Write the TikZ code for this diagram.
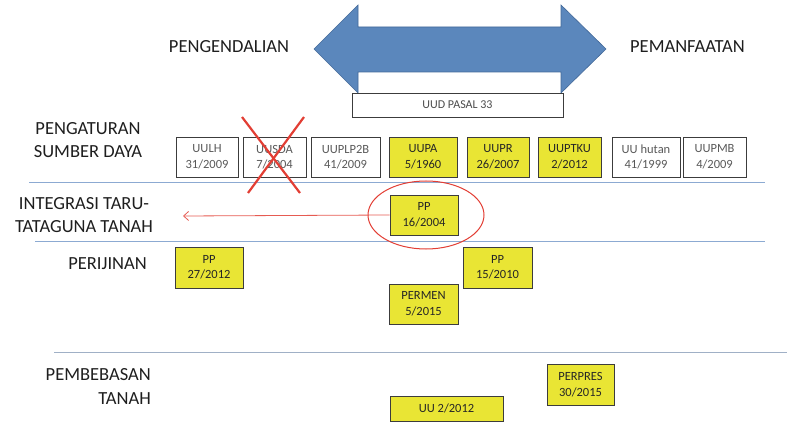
\documentclass[tikz,border=0pt]{standalone}
\usepackage{fontspec}
\setmainfont{Carlito}
\usetikzlibrary{arrows.meta,shadows}
\definecolor{arrowblue}{RGB}{91,135,188}
\definecolor{arrowedge}{RGB}{66,104,152}
\definecolor{lawyellow}{RGB}{233,229,52}
\definecolor{boxedge}{RGB}{60,60,60}
\definecolor{rulerblue}{RGB}{140,170,210}
\definecolor{rulergrey}{RGB}{160,176,198}
\definecolor{markred}{RGB}{226,62,52}
\definecolor{inktext}{RGB}{30,30,30}
\tikzset{
  lawbox/.style={draw=boxedge, line width=0.9pt, rectangle, inner sep=1pt,
    align=center, font=\fontsize{12.5}{15.5}\selectfont,
    drop shadow={shadow xshift=1.2pt, shadow yshift=-1.2pt, fill=black!35, opacity=0.6}},
  wbox/.style={lawbox, fill=white, text=black!65},
  ybox/.style={lawbox, fill=lawyellow, text=black!85},
  heading/.style={text=inktext, font=\fontsize{18.5}{23.5}\selectfont, inner sep=0pt},
  ruler/.style={draw=rulerblue, line width=0.9pt},
}
\begin{document}
\begin{tikzpicture}[x=1pt,y=-1pt]
\useasboundingbox (0,0) rectangle (787,422);

% double-headed arrow between the two policy directions
\filldraw[fill=arrowblue, draw=arrowedge, line width=0.6pt]
  (314,49) -- (358,5) -- (358,27) -- (561,27) -- (561,5) -- (606,49)
  -- (561,93) -- (561,72) -- (358,72) -- (358,93) -- cycle;
\node[draw=boxedge, line width=0.8pt, fill=white, minimum width=211pt, minimum height=24pt,
  inner sep=0pt, font=\fontsize{12}{14}\selectfont, text=black!70] (uud) at (457.5,105) {UUD PASAL 33};

\node[heading] (ctrl) at (229,47) {PENGENDALIAN};
\node[heading] (use) at (687.5,47) {PEMANFAATAN};

% row headings
\node[heading, align=center] (hSD) at (88,140) {PENGATURAN\\SUMBER DAYA};
\node[heading, align=center] (hIT) at (84,215) {INTEGRASI TARU-\\TATAGUNA TANAH};
\node[heading, anchor=east] (hPJ) at (147,264) {PERIJINAN};
\node[heading, align=right, anchor=east] (hPT) at (151,386.5) {PEMBEBASAN\\TANAH};

% separators
\draw[ruler] (29,182) -- (765,182);
\draw[ruler] (35,241) -- (765,241);
\draw[draw=rulergrey, line width=0.9pt] (54,352) -- (787,352);

% laws on resource regulation
\node[wbox, minimum width=62pt, minimum height=40pt] (uulh) at (207,157) {UULH\\31/2009};
\node[wbox, minimum width=63pt, minimum height=40pt] (uusda) at (274.5,157) {UUSDA\\7/2004};
\node[wbox, minimum width=69pt, minimum height=40pt] (uuplp) at (345.5,157) {UUPLP2B\\41/2009};
\node[ybox, minimum width=68pt, minimum height=40pt] (uupa) at (423,157) {UUPA\\5/1960};
\node[ybox, minimum width=62pt, minimum height=40pt] (uupr) at (498,157) {UUPR\\26/2007};
\node[ybox, minimum width=63pt, minimum height=40pt] (uuptku) at (569.5,157) {UUPTKU\\2/2012};
\node[wbox, minimum width=68pt, minimum height=40pt] (uuhut) at (646,157) {UU hutan\\41/1999};
\node[wbox, minimum width=63pt, minimum height=40pt] (uupmb) at (714.5,157) {UUPMB\\4/2009};

% repealed law crossed out
\coordinate (xa) at (242,117);
\coordinate (xb) at (300,193);
\coordinate (xc) at (304,117);
\coordinate (xd) at (248,193);
\draw[markred, line width=2.2pt] (xa) -- (xb);
\draw[markred, line width=2.2pt] (xc) -- (xd);

% spatial integration
\node[ybox, minimum width=68pt, minimum height=40pt] (pp16) at (424,215) {PP\\16/2004};
\draw[markred, line width=1pt] (426,215) ellipse [x radius=58, y radius=34];
\coordinate (itend) at (183,216);
\draw[markred!85, line width=0.8pt, -{Straight Barb[length=5pt,width=9pt]}] (pp16.west) -- (itend);

% permits
\node[ybox, minimum width=68pt, minimum height=41pt] (pp27) at (209,267.5) {PP\\27/2012};
\node[ybox, minimum width=69pt, minimum height=41pt] (pp15) at (497.5,267.5) {PP\\15/2010};
\node[ybox, minimum width=69pt, minimum height=40pt] (permen) at (423.5,304) {PERMEN\\5/2015};

% land acquisition
\node[ybox, minimum width=67pt, minimum height=41pt] (perpres) at (580.5,384.5) {PERPRES\\30/2015};
\node[ybox, minimum width=113pt, minimum height=25pt] (uu2) at (446.5,408.5) {UU 2/2012};
\end{tikzpicture}
\end{document}
